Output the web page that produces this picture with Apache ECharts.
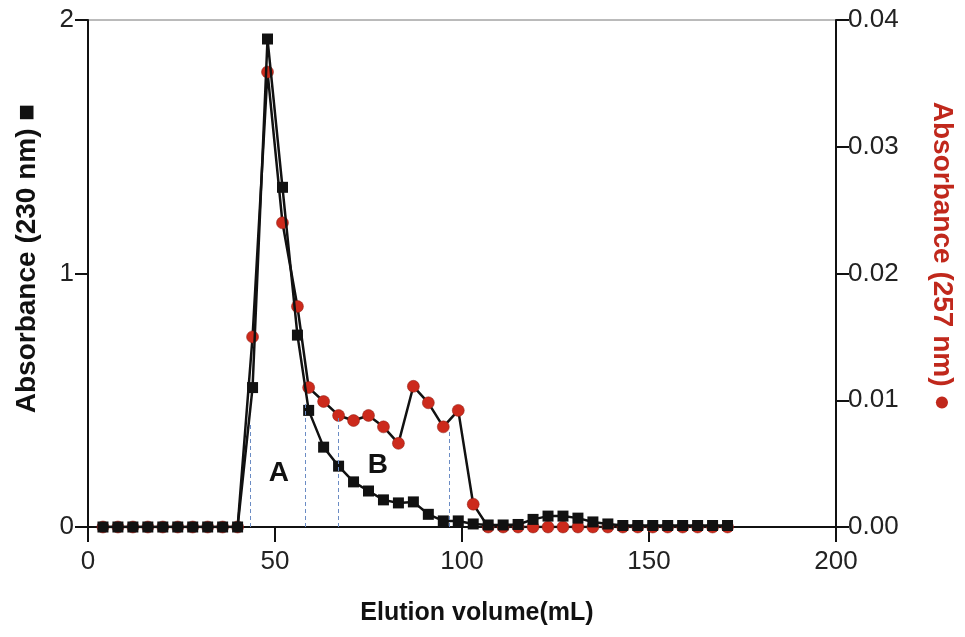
<!DOCTYPE html>
<html>
<head>
<meta charset="utf-8">
<script src="https://cdn.jsdelivr.net/npm/echarts@6/dist/echarts.min.js"></script>
<style>
  html, body { margin: 0; padding: 0; background: #fff; }
  #chart { width: 965px; height: 637px; }
</style>
</head>
<body>
<div id="chart"></div>
<script>
// elution volume (mL) of each fraction
const volumes = [4, 8, 12, 16, 20, 24, 28, 32, 36, 40, 44, 48, 52, 56, 59, 63, 67, 71, 75, 79, 83, 87, 91, 95, 99, 103,
  107, 111, 115, 119, 123, 127, 131, 135, 139, 143, 147, 151, 155, 159, 163, 167, 171]

// absorbance at 230 nm (left axis)
const abs230 = [0, 0, 0, 0, 0, 0, 0, 0, 0, 0, 0.55, 1.925, 1.34, 0.757, 0.46, 0.315, 0.24, 0.178, 0.142, 0.107, 0.095, 0.099, 0.05, 0.024, 0.024, 0.012,
  0.008, 0.008, 0.01, 0.03, 0.043, 0.043, 0.035, 0.02, 0.012, 0.006, 0.006, 0.006, 0.006, 0.006, 0.006, 0.006, 0.006]

// absorbance at 257 nm (right axis)
const abs257 = [0, 0, 0, 0, 0, 0, 0, 0, 0, 0, 0.0150, 0.0359, 0.0240, 0.0174, 0.0110, 0.0099, 0.0088, 0.0084, 0.0088, 0.0079, 0.0066, 0.0111, 0.0098, 0.0079, 0.0092, 0.0018,
  0, 0, 0, 0, 0, 0, 0, 0, 0, 0, 0, 0, 0, 0, 0, 0, 0]

// fraction pool boundaries (dashed lines), x in mL and top in 230 nm units
const cutX = [43.3, 58, 66.8, 96.5]
const cutTop = [0.41, 0.49, 0.43, 0.38]

// peak labels
const peakNames = ['A', 'B']
const peakX = [51, 77.5]
const peakY = [0.213, 0.245]

const FONT = '"Liberation Sans", Arial, Helvetica, sans-serif'

const chart = echarts.init(document.getElementById('chart'))

const option = {
  backgroundColor: '#fff',
  animation: false,
  grid: {
    left: 88,
    right: 129,
    top: 20,
    bottom: 110,
    show: true,
    borderColor: '#777',
    borderWidth: 1
  },
  xAxis: {
    type: 'value',
    min: 0,
    max: 200,
    interval: 50,
    name: 'Elution volume(mL)',
    nameLocation: 'middle',
    nameGap: 74,
    nameTextStyle: { fontFamily: FONT, fontSize: 25, fontWeight: 'bold', color: '#111', padding: [0, 0, 0, 30] },
    axisLine: { lineStyle: { color: '#111', width: 2 } },
    axisTick: { length: 15, lineStyle: { color: '#111', width: 2 } },
    axisLabel: { fontFamily: FONT, fontSize: 26, color: '#222', margin: 22 },
    splitLine: { show: false }
  },
  yAxis: [
    {
      type: 'value',
      min: 0,
      max: 2,
      interval: 1,
      position: 'left',
      name: 'Absorbance (230 nm) ■',
      nameLocation: 'middle',
      nameRotate: 90,
      nameGap: 47,
      nameTextStyle: { fontFamily: FONT, fontSize: 28, fontWeight: 'bold', color: '#111', padding: [0, 0, 0, 30] },
      axisLine: { show: true, lineStyle: { color: '#111', width: 2 } },
      axisTick: { length: 13, lineStyle: { color: '#111', width: 2 } },
      axisLabel: { fontFamily: FONT, fontSize: 26, color: '#222', margin: 14 },
      splitLine: { show: false }
    },
    {
      type: 'value',
      min: 0,
      max: 0.04,
      interval: 0.01,
      position: 'right',
      name: 'Absorbance (257 nm) ●',
      nameLocation: 'middle',
      nameRotate: -90,
      nameGap: 92,
      nameTextStyle: { fontFamily: FONT, fontSize: 28, fontWeight: 'bold', color: '#c0281c', padding: [0, 34, 0, 0] },
      axisLine: { show: true, lineStyle: { color: '#111', width: 2 } },
      axisTick: { length: 13, lineStyle: { color: '#111', width: 2 } },
      axisLabel: {
        fontFamily: FONT, fontSize: 26, color: '#222', margin: 12,
        formatter: v => v.toFixed(2)
      },
      splitLine: { show: false }
    }
  ],
  series: [
    {
      name: '257 nm',
      type: 'line',
      yAxisIndex: 1,
      data: volumes.map((v, i) => [v, abs257[i]]),
      symbol: 'circle',
      symbolSize: 12,
      itemStyle: { color: '#cc2a1c', borderColor: '#8a1a10', borderWidth: 0.5 },
      lineStyle: { color: '#111', width: 2.5 },
      z: 2
    },
    {
      name: '230 nm',
      type: 'line',
      yAxisIndex: 0,
      data: volumes.map((v, i) => [v, abs230[i]]),
      symbol: 'rect',
      symbolSize: 11,
      itemStyle: { color: '#111' },
      lineStyle: { color: '#111', width: 2.5 },
      z: 3,
      markLine: {
        silent: true,
        symbol: 'none',
        label: { show: false },
        lineStyle: { color: '#6b8cc4', width: 1, type: [4, 3] },
        data: cutX.map((x, i) => [{ coord: [x, 0] }, { coord: [x, cutTop[i]] }])
      },
      markPoint: {
        silent: true,
        symbol: 'circle',
        symbolSize: 0,
        label: {
          show: true,
          position: 'inside',
          fontFamily: FONT,
          fontSize: 28,
          fontWeight: 'bold',
          color: '#111',
          formatter: p => p.name
        },
        data: peakNames.map((n, i) => ({ name: n, coord: [peakX[i], peakY[i]] }))
      }
    }
  ]
}

chart.setOption(option)
</script>
</body>
</html>
